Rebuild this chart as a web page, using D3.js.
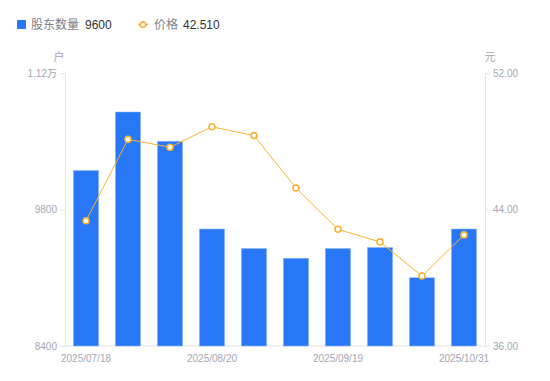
<!DOCTYPE html>
<html>
<head>
<meta charset="utf-8">
<script src="https://cdn.jsdelivr.net/npm/d3@7"></script>
<style>
  body { margin: 0; background: #fff; }
  svg { display: block; font-family: "Liberation Sans", Arial, "Noto Sans CJK SC", sans-serif; }
</style>
</head>
<body>
<div id="chart"></div>
<script>
// dates (only every 3rd is labelled on the axis)
const dates = ["2025/07/18", "2025/07/31", "2025/08/11", "2025/08/20", "2025/08/29",
  "2025/09/10", "2025/09/19", "2025/09/30", "2025/10/20", "2025/10/31"];
const holders = [10200, 10800, 10500, 9600, 9400, 9300, 9400, 9410, 9100, 9600];
const prices = [43.34, 48.11, 47.65, 48.85, 48.33, 45.26, 42.84, 42.10, 40.10, 42.51];
const leftTicks = [8400, 9800, 11200];
const rightTicks = [36, 44, 52];
const xLabels = ["2025/07/18", "2025/08/20", "2025/09/19", "2025/10/31"];

const width = 550, height = 381;
const plotL = 65, plotR = 485, plotT = 73, plotB = 346;
const blue = "#2777f6", orange = "#f9b233", axisColor = "#e3e4e8", labelColor = "#a3a6b2";

const svg = d3.select("#chart").append("svg")
    .attr("width", width)
    .attr("height", height);

const x = d3.scaleBand().domain(dates).range([plotL, plotR])
    .paddingInner(0.4).paddingOuter(0.2);
const yL = d3.scaleLinear().domain([8400, 11200]).range([plotB, plotT]);
const yR = d3.scaleLinear().domain([36, 52]).range([plotB, plotT]);

function fmtLeft(v) {
  return v >= 10000 ? (v / 10000) + "万" : String(v);
}

// left axis
const gL = svg.append("g")
    .attr("transform", `translate(${plotL},0)`)
    .call(d3.axisLeft(yL).tickValues(leftTicks).tickFormat(fmtLeft).tickSize(5).tickSizeOuter(0).tickPadding(3));

// right axis
const gR = svg.append("g")
    .attr("transform", `translate(${plotR},0)`)
    .call(d3.axisRight(yR).tickValues(rightTicks).tickFormat(d3.format(".2f")).tickSize(5).tickSizeOuter(0).tickPadding(3));

[gL, gR].forEach(g => {
  g.select(".domain").attr("stroke", axisColor);
  g.selectAll(".tick line").attr("stroke", axisColor);
  g.selectAll(".tick text").attr("fill", labelColor).attr("font-size", 10)
      .attr("font-family", "'Liberation Sans', Arial, 'Noto Sans CJK SC', sans-serif");
});

// bottom line
svg.append("line")
    .attr("x1", plotL).attr("x2", plotR)
    .attr("y1", plotB).attr("y2", plotB)
    .attr("stroke", axisColor);

// x labels
svg.append("g").selectAll("text")
    .data(xLabels)
    .enter().append("text")
    .attr("x", d => x(d) + x.bandwidth() / 2)
    .attr("y", plotB + 16)
    .attr("text-anchor", "middle")
    .attr("font-size", 10)
    .attr("fill", labelColor)
    .text(d => d);

// units
svg.append("text").attr("x", plotL - 6).attr("y", 61).attr("text-anchor", "middle")
    .attr("font-size", 11).attr("fill", labelColor).text("户");
svg.append("text").attr("x", plotR + 5).attr("y", 61).attr("text-anchor", "middle")
    .attr("font-size", 11).attr("fill", labelColor).text("元");

// bars
svg.append("g").selectAll("rect")
    .data(holders)
    .enter().append("rect")
    .attr("x", (d, i) => x(dates[i]))
    .attr("y", d => yL(d))
    .attr("width", x.bandwidth())
    .attr("height", d => plotB - yL(d))
    .attr("fill", blue)
    .attr("stroke", "#8fb8fb")
    .attr("stroke-width", 0.6);

// price line
const line = d3.line()
    .x((d, i) => x(dates[i]) + x.bandwidth() / 2)
    .y(d => yR(d));

svg.append("path")
    .datum(prices)
    .attr("d", line)
    .attr("fill", "none")
    .attr("stroke", orange)
    .attr("stroke-width", 1);

svg.append("g").selectAll("circle")
    .data(prices)
    .enter().append("circle")
    .attr("cx", (d, i) => x(dates[i]) + x.bandwidth() / 2)
    .attr("cy", d => yR(d))
    .attr("r", 3)
    .attr("fill", "#fff")
    .attr("stroke", orange)
    .attr("stroke-width", 1.6);

// legend
const lg = svg.append("g");
lg.append("rect").attr("x", 17).attr("y", 20).attr("width", 9).attr("height", 9)
    .attr("rx", 1).attr("fill", blue);
lg.append("text").attr("x", 31).attr("y", 29).attr("font-size", 12).attr("fill", "#7b7e88").text("股东数量");
lg.append("text").attr("x", 85).attr("y", 29).attr("font-size", 12).attr("fill", "#333").text(holders[holders.length - 1]);

lg.append("line").attr("x1", 138).attr("x2", 148).attr("y1", 24.5).attr("y2", 24.5)
    .attr("stroke", orange).attr("stroke-width", 1.5);
lg.append("circle").attr("cx", 143).attr("cy", 24.5).attr("r", 2.8)
    .attr("fill", "#fff").attr("stroke", orange).attr("stroke-width", 1.6);
lg.append("text").attr("x", 154).attr("y", 29).attr("font-size", 12).attr("fill", "#7b7e88").text("价格");
lg.append("text").attr("x", 183).attr("y", 29).attr("font-size", 12).attr("fill", "#333")
    .text(d3.format(".3f")(prices[prices.length - 1]));
</script>
</body>
</html>
